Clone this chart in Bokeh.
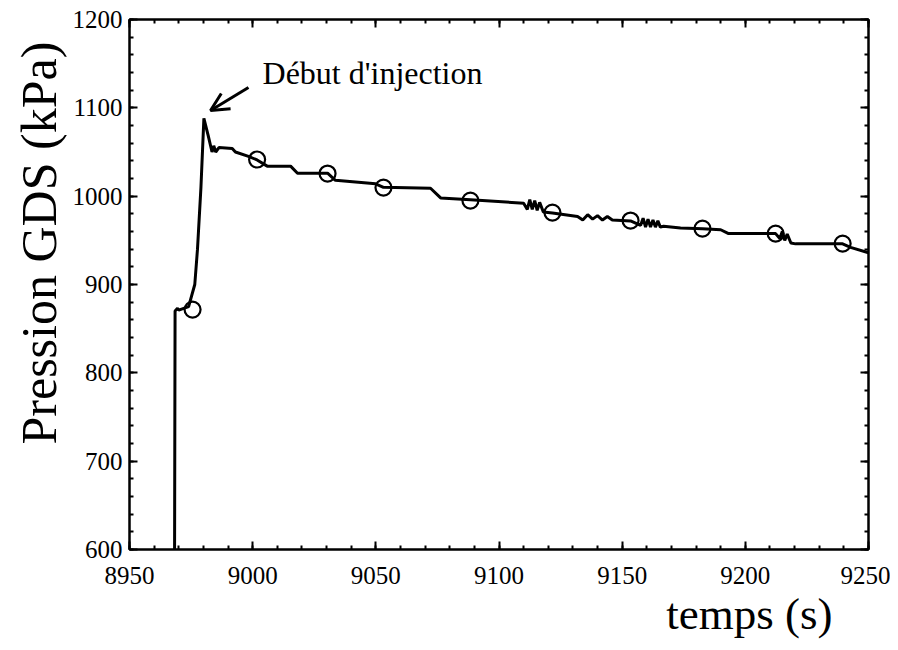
from bokeh.plotting import figure
from bokeh.models import LinearAxis, SingleIntervalTicker, Arrow, OpenHead, Label, Title
from bokeh.embed import file_html
from bokeh.resources import INLINE

# Pressure trace (time in s, pressure in kPa)
time_s = [8968.3, 8968.5, 8969.5, 8970.0, 8972.0, 8974.0, 8976.5, 8977.6, 8979.0, 8980.2,
          8982.0, 8983.5, 8984.2, 8985.0, 8986.3, 8991.7, 8993.0, 8998.3, 9001.8, 9005.9,
          9015.4, 9018.2, 9030.4, 9033.6, 9049.9, 9053.1, 9072.2, 9076.3, 9088.4, 9110.0,
          9111.5, 9112.5, 9113.5, 9114.5, 9115.5, 9116.5, 9118.0, 9121.7, 9131.9,
          9134.0, 9136.0, 9138.0, 9140.0, 9142.0, 9144.0, 9146.0, 9153.4,
          9157.5, 9158.5, 9159.5, 9160.5, 9161.5, 9162.5, 9163.5, 9164.5, 9165.5, 9166.8,
          9173.7, 9182.6, 9190.0, 9193.2, 9212.3, 9214.0, 9215.0, 9216.0, 9217.0, 9218.5,
          9220.4, 9239.5, 9242.7, 9250.0]
pressure_kpa = [600, 870, 873, 871, 873, 875, 900, 940, 1010, 1088,
                1068, 1050, 1057, 1050, 1055, 1054, 1050, 1045, 1041, 1034,
                1034, 1026, 1026, 1018, 1014, 1010, 1009, 998, 996, 992,
                985, 996, 985, 995, 984, 993, 982, 981, 977,
                973, 979, 974, 978, 973, 977, 973, 972,
                967, 975, 965, 974, 965, 973, 965, 972, 965, 966,
                964, 963, 962, 957.6, 957.6, 952, 960, 950, 957, 947,
                946, 946, 942, 936]

# Circle markers
marker_time = [8975.6, 9001.8, 9030.4, 9053.1, 9088.4, 9121.7, 9153.4, 9182.6, 9212.3, 9239.5]
marker_pressure = [871.6, 1041.5, 1025.6, 1009.7, 995.0, 981.4, 972.4, 963.3, 957.6, 946.3]

FONT = "Liberation Serif"

p = figure(width=890, height=650, x_range=(8950, 9250), y_range=(600, 1200),
           output_backend="svg", toolbar_location=None,
           min_border_left=129, min_border_right=22, min_border_top=19, min_border_bottom=101)
p.grid.visible = False
p.outline_line_color = "black"
p.outline_line_width = 2
p.background_fill_color = "white"
p.border_fill_color = "white"

p.xaxis.ticker = SingleIntervalTicker(interval=50, num_minor_ticks=5)
p.yaxis.ticker = SingleIntervalTicker(interval=100, num_minor_ticks=5)

def style(ax, labels=True):
    ax.axis_line_color = "black"
    ax.axis_line_width = 2
    ax.major_tick_in = 8
    ax.major_tick_out = 0
    ax.minor_tick_in = 4
    ax.minor_tick_out = 0
    ax.major_tick_line_width = 2
    ax.minor_tick_line_width = 2
    ax.major_label_text_font = FONT
    if labels:
        ax.major_label_text_font_size = "25px"
        ax.major_label_text_color = "black"
    else:
        ax.major_label_text_color = None
        ax.major_label_standoff = 0

for ax in p.xaxis:
    style(ax)
    ax.major_label_standoff = 17
for ax in p.yaxis:
    style(ax)
    ax.major_label_standoff = 7

ra = LinearAxis(ticker=SingleIntervalTicker(interval=100, num_minor_ticks=5))
style(ra, labels=False)
p.add_layout(ra, "right")
ta = LinearAxis(ticker=SingleIntervalTicker(interval=50, num_minor_ticks=5))
style(ta, labels=False)
p.add_layout(ta, "above")

p.add_layout(Title(text="Pression GDS (kPa)", align="left", offset=105, standoff=6,
                   text_font=FONT, text_font_size="50px", text_font_style="normal",
                   text_color="black"), "left")
p.add_layout(Title(text="temps (s)", align="right", offset=36, standoff=0,
                   text_font=FONT, text_font_size="45px", text_font_style="normal",
                   text_color="black"), "below")

p.line(time_s, pressure_kpa, line_color="black", line_width=3)
p.scatter(marker_time, marker_pressure, marker="circle", size=16,
          fill_color=None, line_color="black", line_width=2.2)

p.add_layout(Arrow(end=OpenHead(size=18, line_width=3, line_color="black"),
                   x_start=8998.3, y_start=1123, x_end=8982.9, y_end=1097,
                   line_width=3, line_color="black"))
p.add_layout(Label(x=9004, y=1139, text="Début d'injection", text_font=FONT,
                   text_font_size="32px", text_baseline="middle", text_align="left",
                   text_color="black"))

open("out.html", "w").write(file_html(p, INLINE))
